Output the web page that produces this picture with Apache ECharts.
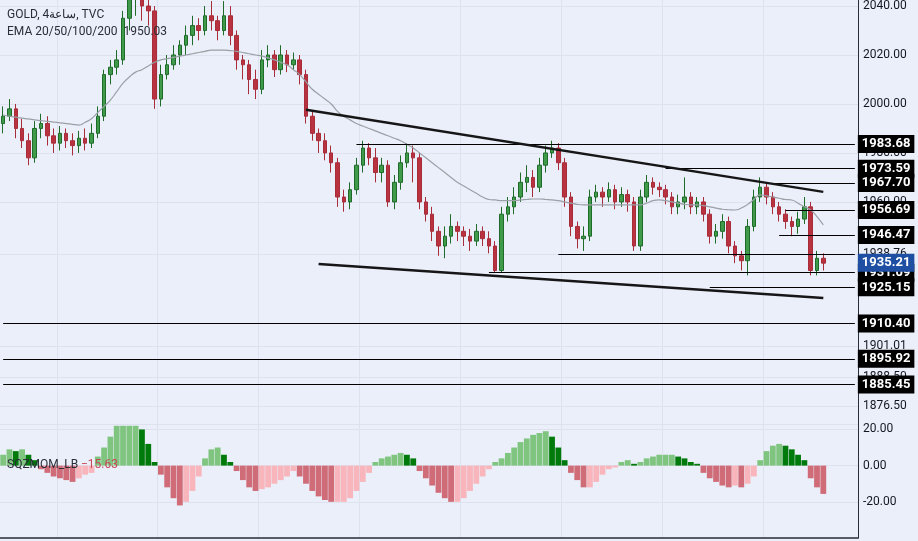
<!DOCTYPE html>
<html>
<head>
<meta charset="utf-8">
<script src="https://cdn.jsdelivr.net/npm/echarts@6/dist/echarts.min.js"></script>
<style>
  html, body { margin: 0; padding: 0; background: #ebeff9; }
  #chart { width: 918px; height: 541px; }
</style>
</head>
<body>
<div id="chart"></div>
<script>
// [open, close, low, high] per 4h bar
const candles = [
  [1992,1995,1988,1999],[1995,1998,1993,2002],[1998,1990,1986,2000],[1990,1985,1982,1994],[1985,1978,1975,1988],
  [1978,1990,1976,1993],[1990,1992,1986,1996],[1992,1987,1983,1995],[1987,1984,1980,1990],[1984,1988,1981,1991],
  [1988,1985,1982,1990],[1985,1983,1979,1988],[1983,1986,1980,1989],[1986,1984,1981,1990],[1984,1988,1982,1992],
  [1988,1995,1986,1999],[1995,2012,1993,2014],[2012,2015,2008,2018],[2015,2018,2012,2022],[2018,2035,2016,2038],
  [2035,2043,2030,2048],[2043,2045,2036,2048],[2045,2040,2034,2048],[2040,2038,2032,2044],[2038,2002,1998,2040],
  [2002,2012,1999,2016],[2012,2016,2010,2020],[2016,2020,2014,2024],[2020,2024,2016,2026],[2024,2028,2020,2032],
  [2028,2032,2024,2036],[2032,2030,2026,2035],[2030,2036,2028,2040],[2036,2034,2030,2042],[2034,2030,2026,2036],
  [2030,2036,2028,2042],[2036,2028,2024,2040],[2028,2018,2014,2030],[2018,2016,2010,2020],[2016,2010,2004,2018],
  [2010,2006,2002,2014],[2006,2018,2004,2022],[2018,2020,2015,2024],[2020,2014,2011,2022],[2014,2020,2012,2024],
  [2020,2016,2013,2022],[2016,2018,2014,2021],[2018,2012,2008,2020],[2012,1995,1992,2014],[1995,1988,1985,1997],
  [1988,1985,1980,1990],[1985,1980,1977,1988],[1980,1976,1972,1983],[1976,1962,1958,1978],[1962,1960,1956,1965],
  [1960,1965,1957,1968],[1965,1975,1963,1978],[1975,1982,1972,1985],[1982,1978,1975,1984],[1978,1972,1968,1982],
  [1972,1975,1968,1978],[1975,1960,1958,1977],[1960,1968,1957,1971],[1968,1976,1965,1979],[1976,1980,1974,1984],
  [1980,1978,1968,1983],[1978,1960,1957,1980],[1960,1955,1952,1962],[1955,1948,1944,1958],[1948,1942,1938,1950],
  [1942,1946,1937,1950],[1946,1950,1943,1955],[1950,1948,1944,1952],[1948,1946,1942,1950],[1946,1944,1940,1949],
  [1944,1948,1942,1951],[1948,1945,1942,1950],[1945,1942,1939,1948],[1942,1932,1931,1944],[1932,1955,1931,1958],
  [1955,1958,1952,1962],[1958,1962,1955,1966],[1962,1968,1960,1972],[1968,1970,1964,1975],[1970,1966,1962,1973],
  [1966,1975,1964,1978],[1975,1980,1972,1983],[1980,1982,1978,1985],[1982,1976,1973,1984],[1976,1962,1958,1978],
  [1962,1950,1946,1964],[1950,1945,1941,1952],[1945,1946,1940,1950],[1946,1962,1944,1965],[1962,1964,1960,1967],
  [1964,1962,1958,1966],[1962,1965,1960,1968],[1965,1960,1957,1967],[1960,1963,1958,1966],[1963,1960,1956,1965],
  [1960,1942,1940,1962],[1942,1962,1940,1965],[1962,1968,1960,1971],[1968,1966,1963,1970],[1966,1965,1962,1968],
  [1965,1962,1959,1967],[1962,1958,1955,1964],[1958,1960,1955,1963],[1960,1962,1957,1970],[1962,1958,1955,1964],
  [1958,1960,1955,1962],[1960,1955,1952,1962],[1955,1946,1943,1957],[1946,1948,1943,1951],[1948,1952,1945,1955],
  [1952,1942,1939,1954],[1942,1938,1935,1944],[1938,1936,1932,1940],[1936,1950,1930,1953],[1950,1962,1948,1965],
  [1962,1966,1960,1970],[1966,1962,1959,1968],[1962,1958,1955,1964],[1958,1955,1952,1960],[1955,1952,1949,1957],
  [1952,1950,1946,1954],[1950,1953,1947,1956],[1953,1958,1951,1962],[1958,1932,1930,1960],[1932,1937,1930,1940],
  [1937,1935,1932,1939]
];

const ema = [
  1995.5,1995,1994.6,1994.2,1993.9,1993.5,1993.2,1992.9,1992.6,1992.3,1992,1991.7,1991.4,
  1992.5,1994,1996.5,1999,2001.6,
  2005,2008.5,2011,2013,2014,
  2015.5,2017,2018,
  2018.5,2019,2019.5,2020,2020.5,2021,2021.5,2022,2022,
  2022,2021.8,2021.5,2021,2020.5,2020,
  2019.5,2018.8,2018,2017,2016,
  2014,2012,2009,2006,2004,2002,2000,
  1997,1995,1993.5,
  1992,1991,1990,1989,1988,1987,1986,1985,1983.5,
  1982,1980,1978,1976,1974,1972,1970,1968,1966.5,1965,
  1963.5,1962,1961,
  1960.8,1960.5,1960.5,1960.5,1960.8,1961,1961.2,1961.2,1961,
  1960.8,1960.5,1960,1959.5,1959,1958.8,1958.8,1958.8,1958.8,
  1958.8,1958.8,1958.8,1958.8,1958.8,1958.8,
  1959.5,1960.5,1960.8,
  1960.5,1960,1959.5,1959,1958.8,1958.8,
  1958.5,1958,1957.5,1957,1956.8,1956.7,
  1957.5,1959,1961,1962.9,
  1962.5,1962,1961.5,1961,1960.8,
  1959.5,1958,1956.7,1954,1950.6
];

const momentum = [
  6,9,8,9,6,3,
  -2,-4,-6,-7,-8,-9,-7,-5,-4,
  5,10,16,22,22,22,22,20,12,2,
  -5,-12,-18,-22,-20,-14,-6,
  4,9,10,6,2,
  -3,-8,-12,-14,-13,-12,-10,-8,-6,-3,
  -6,-10,-14,-17,-19,-20,-20,-20,-18,-14,-9,-4,
  2,4,5,6,7,6,4,
  -3,-7,-11,-15,-18,-20,-20,-18,-14,-10,-6,-2,
  2,4,7,10,13,15,17,18,19,16,10,3,
  -4,-8,-12,-12,-9,-5,
  -2,-1,
  2,3,1,
  2,4,5,6,6,6,5,4,2,1,
  -4,-7,-9,-11,-12,-11,-12,-10,-6,
  3,8,11,12,11,9,6,3,
  -7,-12,-15.63
];

const padBars = 5;
const priceTicks = [2040, 2020, 2000, 1980, 1960, 1938.76, 1901.01, 1888.50, 1876.50];

// [startIndex, value, labelled]
const levels = [
  [56, 1983.68, true], [105, 1973.59, true], [122, 1967.70, true], [124, 1956.69, true],
  [123, 1946.47, true], [88, 1938.76, false], [77, 1931.09, true], [112, 1925.15, true],
  [0, 1910.40, true], [0, 1895.92, true], [0, 1885.45, true]
];
const trendLines = [
  [[48.2, 1997.6], [129.5, 1964.1]],
  [[49.8, 1934.7], [130, 1920.8]]
];
const lastPrice = 1935.21;

const total = candles.length + padBars;
const categories = Array.from({ length: total }, (_, i) => String(i));
const lastIdx = total - 1;

const momColors = momentum.map((v, i) => {
  const prev = i > 0 ? momentum[i - 1] : v;
  if (v >= 0) return v >= prev ? '#7fc47f' : '#007a0a';
  return v < prev ? '#cf6c78' : '#f8b5bb';
});

const boxLabel = (bg, v) => ({
  show: true, position: 'end', distance: 3,
  formatter: v.toFixed(2),
  backgroundColor: bg, color: '#fff', fontWeight: 'bold', fontSize: 13,
  fontFamily: 'Roboto', padding: [3, 4, 2, 4]
});

const markData = levels.map(([start, v, lab]) => [
  { coord: [start, v], label: lab ? boxLabel('#000', v) : { show: false } },
  { coord: [lastIdx, v] }
]);
trendLines.forEach(([a, b]) => markData.push([
  { coord: a, lineStyle: { width: 2.5, color: '#161616' }, label: { show: false } },
  { coord: b }
]));
markData.push([
  { coord: [lastIdx - 1, lastPrice], lineStyle: { color: 'rgba(0,0,0,0)' }, label: boxLabel('#1f4fa3', lastPrice) },
  { coord: [lastIdx, lastPrice] }
]);

const chart = echarts.init(document.getElementById('chart'));
chart.setOption({
  backgroundColor: '#ebeff9',
  animation: false,
  textStyle: { fontFamily: 'Roboto' },
  grid: [
    { left: 0, right: 60, top: 0, height: 427 },
    { left: 0, right: 60, top: 424, height: 114 }
  ],
  xAxis: [
    {
      type: 'category', data: categories, gridIndex: 0,
      axisLine: { show: false }, axisTick: { show: false }, axisLabel: { show: false },
      splitLine: { show: true, interval: (i) => i % 16 === 9, lineStyle: { color: '#dde2ee' } }
    },
    {
      type: 'category', data: categories, gridIndex: 1,
      axisLine: { show: true, onZero: false, lineStyle: { color: '#2a2e39', width: 1.5 } },
      axisTick: { show: false }, axisLabel: { show: false },
      splitLine: { show: true, interval: (i) => i % 16 === 9, lineStyle: { color: '#dde2ee' } }
    }
  ],
  yAxis: [
    {
      type: 'value', gridIndex: 0, position: 'right', min: 1868.1, max: 2042.4,
      axisLine: { show: true, lineStyle: { color: '#2a2e39' } },
      axisTick: { show: false, customValues: priceTicks },
      axisLabel: { customValues: priceTicks, color: '#131722', fontSize: 12, margin: 5,
                   formatter: (v) => v.toFixed(2) },
      splitLine: { show: true, lineStyle: { color: '#dde2ee' } }
    },
    {
      type: 'value', gridIndex: 1, position: 'right', min: -40, max: 23, interval: 20,
      axisLine: { show: true, lineStyle: { color: '#2a2e39' } },
      axisTick: { show: false },
      axisLabel: { color: '#131722', fontSize: 12, margin: 5,
                   formatter: (v) => v > 21 || v < -30 ? '' : v.toFixed(2) },
      splitLine: { show: true, lineStyle: { color: '#dde2ee' } }
    }
  ],
  series: [
    {
      name: 'GOLD', type: 'candlestick', data: candles, barWidth: 4,
      itemStyle: { color: '#3f9a4a', color0: '#b8323f', borderColor: '#1f6b2a', borderColor0: '#a82c3a', borderWidth: 1 },
      markLine: {
        symbol: 'none', silent: true,
        lineStyle: { color: '#000', width: 1, type: 'solid' },
        label: { show: false },
        data: markData
      }
    },
    {
      name: 'EMA', type: 'line', data: ema, showSymbol: false, smooth: true,
      lineStyle: { color: '#9aa0a6', width: 1.2 }
    },
    {
      name: 'SQZMOM_LB', type: 'bar', xAxisIndex: 1, yAxisIndex: 1, barCategoryGap: '8%',
      data: momentum.map((v, i) => ({ value: v, itemStyle: { color: momColors[i] } }))
    }
  ],
  graphic: [
    { type: 'text', z: 100, left: 7, top: 9, style: { text: 'GOLD, 4ساعة, TVC', fill: '#2a2e39', font: '12px Roboto' } },
    { type: 'text', z: 100, left: 7, top: 26, style: { text: 'EMA 20/50/100/200  1950.03', fill: '#2a2e39', font: '12px Roboto' } },
    { type: 'text', z: 100, left: 7, top: 459, style: { text: 'SQZMOM_LB', fill: '#2a2e39', font: '12px Roboto' } },
    { type: 'text', z: 100, left: 81, top: 459, style: { text: '−15.63', fill: '#c8485a', font: '12px Roboto' } }
  ]
});
</script>
</body>
</html>
